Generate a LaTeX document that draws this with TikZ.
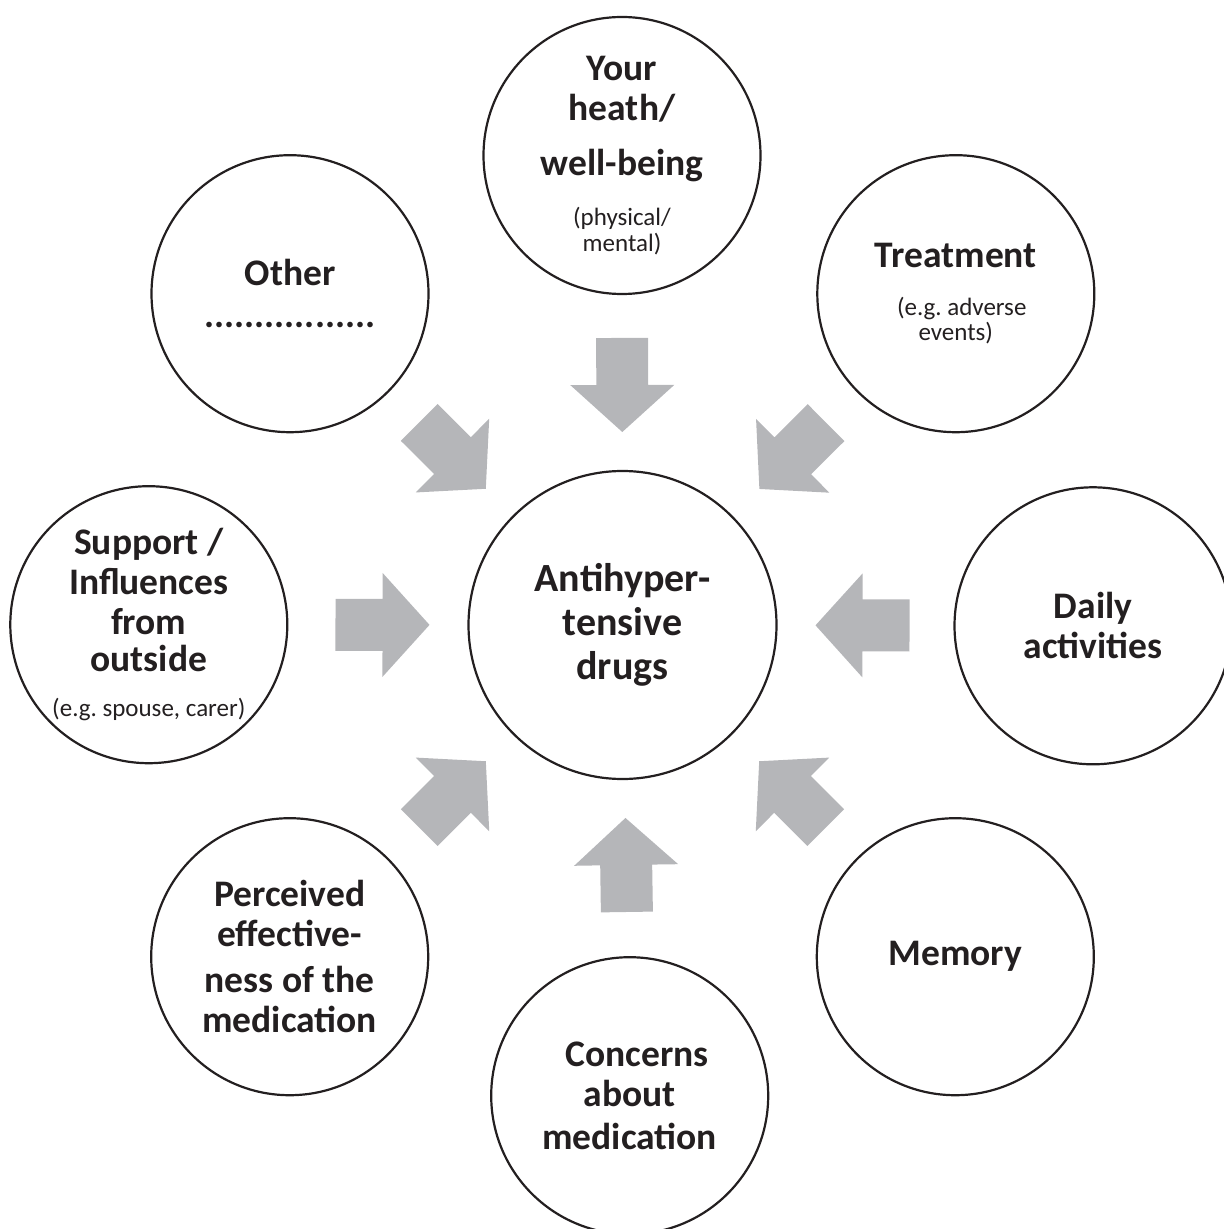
\documentclass[tikz,border=0pt]{standalone}
\usepackage{fontspec}
\setmainfont{Carlito}
\usepackage{tikz}
\usetikzlibrary{calc}
\frenchspacing

\definecolor{arrowgray}{RGB}{181,182,185}
\definecolor{inkblack}{RGB}{35,31,32}

\newcommand{\smalltxt}{\fontsize{12.5}{13}\mdseries\selectfont}

% block arrow pointing from a factor towards the centre
\newcommand{\pusharrow}[1]{%
  \fill[arrowgray] ($(drugs.center)!96.5pt!(#1.center)$)
    -- ($(drugs.center)!122.8pt!12.23:(#1.center)$) -- ($(drugs.center)!120.7pt!6.18:(#1.center)$)
    -- ($(drugs.center)!144.1pt!5.18:(#1.center)$) -- ($(drugs.center)!144.1pt!-5.18:(#1.center)$)
    -- ($(drugs.center)!120.7pt!-6.18:(#1.center)$) -- ($(drugs.center)!122.8pt!-12.23:(#1.center)$) -- cycle;}

\begin{document}
\begin{tikzpicture}[x=0.5pt, y=-0.5pt,
    factor/.style={circle, draw=inkblack, line width=1.1pt, text=inkblack,
      minimum size=138.5pt, inner sep=-8pt, align=center,
      font=\fontsize{18.75}{20}\bfseries\selectfont},
    core/.style={factor, minimum size=154pt, font=\fontsize{20}{22}\bfseries\selectfont}]
        \useasboundingbox (0,0) rectangle (1223,1229);

        % Centre
        \node[core] (drugs) at (622.5,625) {Antihyper-\\tensive\\drugs};

        % Factors round the centre
        \node[factor] (health) at (622,155.5) {Your\\heath/\\[7.5pt]well-being\\[5pt]\smalltxt(physical/\\[-6.8pt]\smalltxt mental)};
        \node[factor] (treatment) at (955.8,293.7) {Treatment\\[4.2pt]\smalltxt\hspace*{5.9pt}(e.g. adverse\\[-7.5pt]\smalltxt events)};
        \node[factor] (daily) at (1093,625.8) {Daily\\activities};
        \node[factor] (memory) at (955.3,956.7) {Memory};
        \node[factor] (concerns) at (629.7,1095.7) {\hspace*{7.3pt}Concerns\\about\\[1.5pt]medication};
        \node[factor] (perceived) at (289.7,956.7) {Perceived\\effective-\\[3pt]ness of the\\medication};
        \node[factor] (support) at (148.8,624.7) {Support /\\Influences\\from\\[-1.5pt]outside\\[2.5pt]\smalltxt(e.g. spouse, carer)};
        \node[factor] (other) at (290,293.7) {Other\\[1pt].................};

        % Arrows into the centre
        \foreach \f in {health,treatment,daily,memory,concerns,perceived,support,other}
          \pusharrow{\f};
      \end{tikzpicture}
\end{document}
